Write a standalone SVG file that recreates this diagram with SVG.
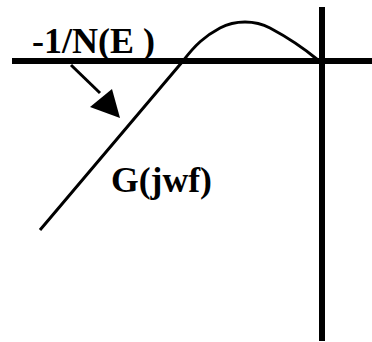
<svg xmlns="http://www.w3.org/2000/svg" width="372" height="342" viewBox="0 0 372 342">
<style>
.axis{stroke:#000;stroke-width:6;fill:none}
.curve{stroke:#000;stroke-width:3;fill:none;stroke-linejoin:round}
.lbl{font-family:"Liberation Serif","Times New Roman",serif;font-weight:bold;fill:#000}
</style>
<rect width="372" height="342" fill="#fff"/>
<g id="axes">
<line class="axis" x1="12" y1="61" x2="372" y2="61"/>
<line class="axis" x1="322" y1="7" x2="322" y2="341"/>
</g>
<g id="nyquist">
<path class="curve" d="M40,230 L183,61 C195,45 205,36 220,28 C235,20 255,20 270,28 C285,36 300,45 318,60"/>
</g>
<g id="connectors">
<line x1="71" y1="65" x2="100" y2="93" stroke="#000" stroke-width="3"/>
<polygon points="90,107 112,89 120,118" fill="#000"/>
</g>
<g id="label-n">
<text class="lbl" x="32" y="53" font-size="36" textLength="123" lengthAdjust="spacingAndGlyphs">-1/N(E )</text>
</g>
<g id="label-g">
<text class="lbl" x="111" y="192" font-size="35" textLength="101" lengthAdjust="spacingAndGlyphs">G(jwf)</text>
</g>
</svg>
